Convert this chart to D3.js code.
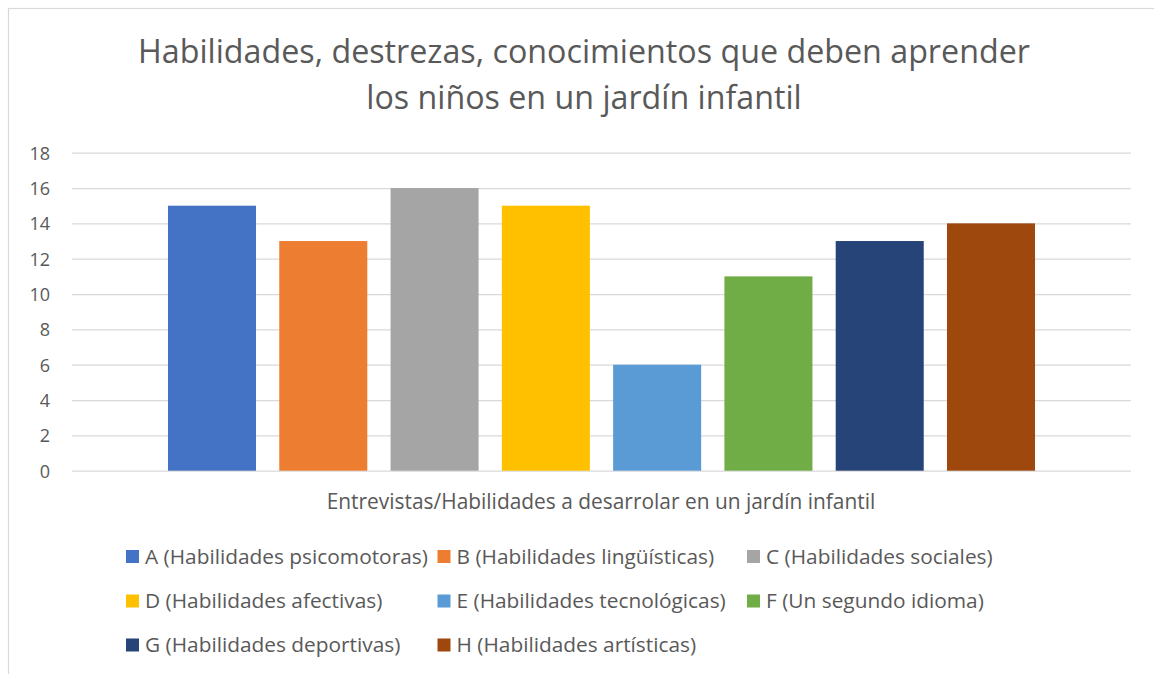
<!DOCTYPE html>
<html>
<head>
<meta charset="utf-8">
<script src="https://cdn.jsdelivr.net/npm/d3@7"></script>
<style>
  html, body { margin: 0; padding: 0; background: #fff; }
  svg { display: block; font-family: "Open Sans", "Noto Sans", sans-serif; }
</style>
</head>
<body>
<svg id="chart" width="1154" height="674"></svg>
<script>
// Chart content
const titleLines = [
  "Habilidades, destrezas, conocimientos que deben aprender",
  "los niños en un jardín infantil"
];
const axisTitle = "Entrevistas/Habilidades a desarrolar en un jardín infantil";
const categories = ["A", "B", "C", "D", "E", "F", "G", "H"];
const seriesNames = [
  "A (Habilidades psicomotoras)",
  "B (Habilidades lingüísticas)",
  "C (Habilidades sociales)",
  "D (Habilidades afectivas)",
  "E (Habilidades tecnológicas)",
  "F (Un segundo idioma)",
  "G (Habilidades deportivas)",
  "H (Habilidades artísticas)"
];
const values = [15, 13, 16, 15, 6, 11, 13, 14];
const colors = ["#4472C4", "#ED7D31", "#A5A5A5", "#FFC000", "#5B9BD5", "#70AD47", "#264478", "#9E480E"];
const yTicks = [0, 2, 4, 6, 8, 10, 12, 14, 16, 18];

const svg = d3.select("#chart");
const textColor = "#595959";

// Outer chart frame
svg.append("rect")
  .attr("x", 8.5).attr("y", 8.5)
  .attr("width", 1160).attr("height", 700)
  .attr("fill", "#fff").attr("stroke", "#d9d9d9").attr("stroke-width", 1.2);

// Scale a text element's font size so it spans the given width
function fitWidth(sel, width) {
  const node = sel.node();
  const fs = parseFloat(sel.attr("font-size"));
  const w = node.getComputedTextLength();
  sel.attr("font-size", (fs * width / w).toFixed(2));
  return fs * width / w;
}

const plot = { left: 72, right: 1131, top: 152.7, bottom: 470.7 };

const x = d3.scaleBand()
  .domain(categories)
  .range([plot.left, plot.right])
  .paddingInner(0.209)
  .paddingOuter(0.8625);

const y = d3.scaleLinear()
  .domain([0, 18])
  .range([plot.bottom, plot.top]);

// Horizontal gridlines and value labels
const yAxis = d3.axisLeft(y)
  .tickValues(yTicks)
  .tickSize(-(plot.right - plot.left))
  .tickPadding(22)
  .tickFormat(d3.format("d"));

const gAxis = svg.append("g")
  .attr("transform", `translate(${plot.left},0)`)
  .call(yAxis);
gAxis.select(".domain").remove();
gAxis.selectAll(".tick line")
  .attr("stroke", "#d9d9d9").attr("stroke-width", 1.3);
gAxis.selectAll(".tick text")
  .attr("fill", textColor)
  .attr("font-family", "'Open Sans', sans-serif")
  .attr("font-size", 18)
  .attr("dy", "0.36em");

// Bars
svg.append("g").selectAll("rect")
  .data(values)
  .join("rect")
  .attr("x", (d, i) => x(categories[i]))
  .attr("width", x.bandwidth())
  .attr("y", d => y(d))
  .attr("height", d => y(0) - y(d))
  .attr("fill", (d, i) => colors[i]);

// Title
const t1 = svg.append("text")
  .attr("x", 584).attr("y", 63)
  .attr("text-anchor", "middle")
  .attr("fill", textColor)
  .attr("font-size", 30)
  .text(titleLines[0]);
const titleSize = fitWidth(t1, 892);
svg.append("text")
  .attr("x", 584).attr("y", 109)
  .attr("text-anchor", "middle")
  .attr("fill", textColor)
  .attr("font-size", titleSize)
  .text(titleLines[1]);

// Category axis title
const at = svg.append("text")
  .attr("x", 601).attr("y", 509)
  .attr("text-anchor", "middle")
  .attr("fill", textColor)
  .attr("font-size", 18)
  .text(axisTitle);
fitWidth(at, 549);

// Legend, three columns
const legendCols = [126, 437.5, 747];
const legendRows = [563.5, 608, 652];
const probe = svg.append("text").attr("font-size", 18).text(seriesNames[0]);
const legendSize = fitWidth(probe, 283);
probe.remove();

const items = svg.append("g").selectAll("g")
  .data(seriesNames)
  .join("g")
  .attr("transform", (d, i) => `translate(${legendCols[i % 3]},${legendRows[Math.floor(i / 3)]})`);
items.append("rect")
  .attr("x", 0).attr("y", -13.5)
  .attr("width", 13).attr("height", 13)
  .attr("fill", (d, i) => colors[i]);
items.append("text")
  .attr("x", 19).attr("y", 0)
  .attr("fill", textColor)
  .attr("font-size", legendSize)
  .text(d => d);
</script>
</body>
</html>
